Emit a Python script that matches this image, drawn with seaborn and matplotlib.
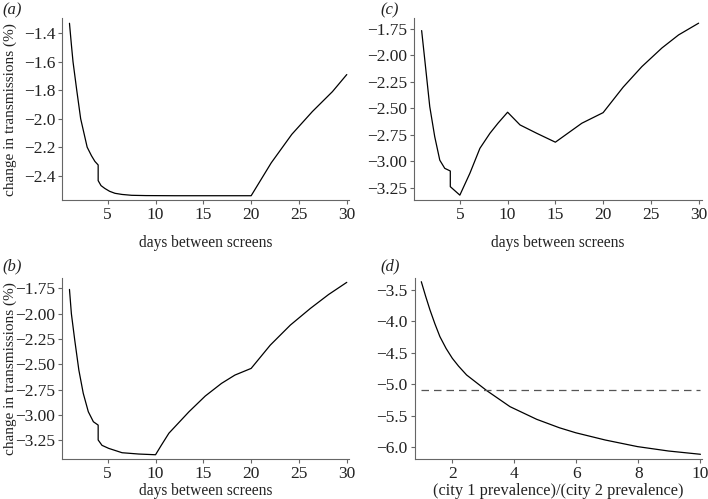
import numpy as np
import pandas as pd
import matplotlib
matplotlib.use('Agg')
import matplotlib.pyplot as plt
from matplotlib.ticker import FuncFormatter
import seaborn as sns


# values
a_days = [1, 1.2, 1.37, 1.76, 2.17, 2.85, 3.3, 3.66, 4.0, 4.0, 4.3, 4.7, 5.2, 5.76, 6.5, 7.5, 9, 12, 16, 20,
          22.1, 24.25, 26.4, 28.5, 30]
a_change = [-1.33, -1.48, -1.60, -1.80, -2.00, -2.20, -2.26, -2.30, -2.325, -2.435, -2.47, -2.49, -2.51, -2.524,
            -2.532, -2.538, -2.54, -2.541, -2.541, -2.541, -2.31, -2.11, -1.95, -1.81, -1.69]

b_days = [1, 1.2, 1.55, 1.98, 2.44, 2.97, 3.5, 4.0, 4.0, 4.4, 5.1, 6.5, 8.25, 10, 10.6, 11.4, 13.5, 15.2, 16.9,
          18.3, 20, 22, 24.1, 26.2, 28.1, 30]
b_change = [-1.76, -2.0, -2.26, -2.556, -2.786, -2.968, -3.067, -3.1, -3.247, -3.30, -3.33, -3.373, -3.386, -3.393,
            -3.30, -3.18, -2.968, -2.813, -2.688, -2.606, -2.54, -2.31, -2.112, -1.947, -1.81, -1.69]

c_days = [1, 1.33, 1.85, 2.37, 2.9, 3.42, 4.0, 4.0, 5, 6.05, 7.1, 8.15, 9, 10, 11.3, 13.05, 15, 17.77, 20,
          22.1, 24.06, 26.16, 27.9, 30]
c_change = [-1.766, -2.043, -2.484, -2.768, -2.99, -3.067, -3.092, -3.24, -3.32, -3.114, -2.878, -2.736, -2.64,
            -2.537, -2.657, -2.736, -2.82, -2.641, -2.541, -2.30, -2.106, -1.93, -1.807, -1.696]

d_ratio = [1, 1.14, 1.28, 1.44, 1.6, 1.8, 2.0, 2.2, 2.46, 3.11, 3.86, 4.72, 5.45, 5.98, 6.93, 7.97, 8.97, 10]
d_change = [-3.368, -3.6, -3.818, -4.04, -4.242, -4.43, -4.586, -4.71, -4.851, -5.1, -5.355, -5.556, -5.69,
            -5.77, -5.885, -5.99, -6.06, -6.112]
d_base_ratio = [1, 10]
d_base_change = [-5.09, -5.09]

days_ticks = [5, 10, 15, 20, 25, 30]
ratio_ticks = [2, 4, 6, 8, 10]
a_yticks = [-1.4, -1.6, -1.8, -2.0, -2.2, -2.4]
bc_yticks = [-1.75, -2.0, -2.25, -2.5, -2.75, -3.0, -3.25]
d_yticks = [-3.5, -4.0, -4.5, -5.0, -5.5, -6.0]

YLABEL = 'change in transmissions (%)'
XLABEL = 'days between screens'
XLABEL_D = '(city 1 prevalence)/(city 2 prevalence)'


sns.set_style('ticks')
plt.rcParams['font.family'] = ['Liberation Serif', 'DejaVu Serif']

W, H = 708, 499
fig = plt.figure(figsize=(W/100, H/100), dpi=100)


def px_axes(left, top, right, bottom):
    return fig.add_axes([left/W, 1-bottom/H, (right-left)/W, (bottom-top)/H])


def minus_fmt(fmt):
    return FuncFormatter(lambda v, pos: (fmt % v).replace('-', '\u2212'))


def style(ax, xticks, yticks, fmt, xlim, ylim, xlabel, xsize, xpad, ylabel=None):
    ax.set_xlim(*xlim)
    ax.set_ylim(*ylim)
    ax.set_xticks(xticks)
    ax.set_yticks(yticks)
    ax.yaxis.set_major_formatter(minus_fmt(fmt))
    for side in ['top', 'right']:
        ax.spines[side].set_visible(False)
    for side in ['left', 'bottom']:
        ax.spines[side].set_color('#666666')
        ax.spines[side].set_linewidth(0.8)
    ax.tick_params(direction='out', length=3, width=0.8, color='#666666', labelsize=12.5, pad=2,
                   labelcolor='#222222')
    ax.set_xlabel(xlabel, fontsize=xsize, labelpad=xpad, color='#222222')
    if ylabel:
        ax.set_ylabel(ylabel, fontsize=11, color='#222222')
        # right edge of the rotated label sits about 17 px from the figure's left edge
        pos = ax.get_position()
        ax.yaxis.set_label_coords((17/W - pos.x0)/pos.width, 0.5)
    else:
        ax.set_ylabel('')


line_kw = dict(color='black', linewidth=0.9, estimator=None, sort=False)

axA = px_axes(62.3, 18.3, 348.5, 200)
sns.lineplot(x=a_days, y=a_change, ax=axA, **line_kw)
style(axA, days_ticks, a_yticks, '%.1f', (0.25, 30.18), (-2.571, -1.295), XLABEL, 11.2, 9, YLABEL)

axC = px_axes(414, 18.3, 701.5, 200)
sns.lineplot(x=c_days, y=c_change, ax=axC, **line_kw)
style(axC, days_ticks, bc_yticks, '%.2f', (0.2, 30.3), (-3.366, -1.65), XLABEL, 11.2, 9)

axB = px_axes(62.3, 278.3, 348.5, 459)
sns.lineplot(x=b_days, y=b_change, ax=axB, **line_kw)
style(axB, days_ticks, bc_yticks, '%.2f', (0.25, 30.18), (-3.435, -1.65), XLABEL, 11.2, 0.5, YLABEL)

axD = px_axes(414.7, 278.3, 702, 459)
sns.lineplot(x=d_ratio, y=d_change, ax=axD, **line_kw)
sns.lineplot(x=d_base_ratio, y=d_base_change, ax=axD, color='#555555', linewidth=0.9,
             linestyle=(0, (6, 4)), estimator=None, sort=False)
style(axD, ratio_ticks, d_yticks, '%.1f', (0.787, 10.05), (-6.187, -3.314), XLABEL_D, 11.8, 0.5)

# panel letters
for label, (px, py) in zip(['a', 'c', 'b', 'd'], [(12, 10), (390, 10), (12, 266), (390, 266)]):
    fig.text(px/W, 1-py/H, '(' + label + ')', fontsize=12, style='italic', ha='center', va='center',
             color='#222222')

fig.savefig('out.png', dpi=100)
